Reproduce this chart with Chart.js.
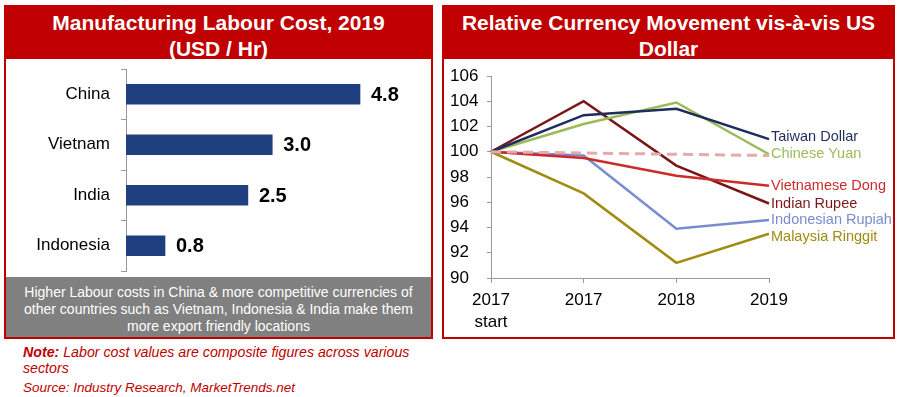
<!DOCTYPE html>
<html>
<head>
<meta charset="utf-8">
<script src="https://cdn.jsdelivr.net/npm/chart.js@4/dist/chart.umd.min.js"></script>
<style>
  body { margin: 0; width: 900px; height: 397px; background: #fff; position: relative; font-family: "Liberation Sans", Arial, sans-serif; overflow: hidden; }
  .panel { position: absolute; top: 5px; height: 330px; border: 2px solid #c00000; box-sizing: content-box; }
  .title { position: absolute; left: 0; right: 0; top: 0; height: 52px; background: #c00000; color: #fff; font-weight: bold; font-size: 21px; line-height: 26px; text-align: center; padding-top: 3px; box-sizing: border-box; }
  .summary { position: absolute; left: 0; right: 0; bottom: 0; height: 60px; background: #808080; color: #fff; font-size: 14px; line-height: 17px; text-align: center; padding-top: 7px; box-sizing: border-box; }
  canvas { position: absolute; }
  .note { position: absolute; left: 23px; top: 344px; color: #c00000; font-style: italic; font-size: 14.2px; line-height: 16px; width: 400px; }
  .source { position: absolute; left: 23px; top: 380px; color: #c00000; font-style: italic; font-size: 13.5px; }
</style>
</head>
<body>
<div class="panel" style="left:4px; width:425px;">
  <div class="title">Manufacturing Labour Cost, 2019<br>(USD / Hr)</div>
  <div class="summary">Higher Labour costs in China &amp; more competitive currencies of<br>other countries such as Vietnam, Indonesia &amp; India make them<br>more export friendly locations</div>
</div>
<div class="panel" style="left:442px; width:449px;">
  <div class="title">Relative Currency Movement vis-à-vis US<br>Dollar</div>
</div>
<canvas id="labourChart" width="424" height="218" style="left:6px; top:59px;"></canvas>
<canvas id="currencyChart" width="448" height="278" style="left:444px; top:57px;"></canvas>
<div class="note"><b>Note:</b> Labor cost values are composite figures across various sectors</div>
<div class="source">Source: Industry Research, MarketTrends.net</div>

<script>
// bar chart data
const countries = ['China', 'Vietnam', 'India', 'Indonesia']
const labourCost = [4.8, 3.0, 2.5, 0.8]

// currency index data (start of 2017 = 100)
const periods = [['2017', 'start'], '2017', '2018', '2019']
const taiwanDollar = [100, 102.9, 103.4, 101.0]
const chineseYuan = [100, 102.2, 103.9, 99.8]
const vietnameseDong = [100, 99.5, 98.1, 97.3]
const indianRupee = [100, 104.0, 98.9, 95.9]
const indonesianRupiah = [100, 99.7, 93.9, 94.6]
const malaysiaRinggit = [100, 96.7, 91.2, 93.5]
const baseline = [100, 99.9, 99.8, 99.7]
const yTicks = [90, 106, 2] // min, max, step

Chart.defaults.font.family = '"Liberation Sans", Arial, sans-serif'
Chart.defaults.color = '#000'

// value labels at the end of each bar
const barValues = {
  id: 'barValues',
  afterDatasetsDraw(chart) {
    const ctx = chart.ctx
    const meta = chart.getDatasetMeta(0)
    ctx.save()
    ctx.font = 'bold 20px "Liberation Sans", Arial'
    ctx.fillStyle = '#000'
    ctx.textAlign = 'left'
    ctx.textBaseline = 'middle'
    meta.data.forEach((bar, i) => {
      ctx.fillText(labourCost[i].toFixed(1), bar.x + 11, bar.y + 1)
    })
    ctx.restore()
  }
}

new Chart(document.getElementById('labourChart'), {
  type: 'bar',
  data: {
    labels: countries,
    datasets: [{
      data: labourCost,
      backgroundColor: '#1f3f7f',
      barThickness: 20
    }]
  },
  options: {
    responsive: false,
    animation: false,
    indexAxis: 'y',
    layout: { padding: { left: 0, right: 11.5, top: 10, bottom: 6 } },
    plugins: { legend: { display: false }, tooltip: { enabled: false } },
    scales: {
      x: { display: false, min: 0, max: 6 },
      y: {
        afterFit: (scale) => {
          scale.width = 120
          // keep the label padding from pushing the plot area in
          scale.paddingTop = 0
          scale.paddingBottom = 0
        },
        border: { color: '#999', width: 1 },
        grid: { offset: true, drawOnChartArea: false, drawTicks: true, tickLength: 5, color: '#999' },
        ticks: { font: { size: 17 }, padding: 11, color: '#000' }
      }
    }
  },
  plugins: [barValues]
})

// series names written next to the last point of each line
const endLabels = {
  id: 'endLabels',
  afterDatasetsDraw(chart) {
    const ctx = chart.ctx
    ctx.save()
    ctx.font = '14.5px "Liberation Sans", Arial'
    ctx.textAlign = 'left'
    ctx.textBaseline = 'middle'
    chart.data.datasets.forEach((ds, i) => {
      if (!ds.label) return
      const pts = chart.getDatasetMeta(i).data
      const last = pts[pts.length - 1]
      ctx.fillStyle = ds.borderColor
      ctx.fillText(ds.label, last.x + 2, last.y + (ds.labelShift || 0))
    })
    ctx.restore()
  }
}

const line = (label, data, color, extra) => Object.assign({
  label: label,
  data: data,
  borderColor: color,
  borderWidth: 2.5,
  pointRadius: 0,
  tension: 0,
  fill: false
}, extra || {})

new Chart(document.getElementById('currencyChart'), {
  type: 'line',
  data: {
    labels: periods,
    datasets: [
      line('', baseline, '#e6aaaa', { borderWidth: 3, borderDash: [10, 6], order: 0 }),
      line('Taiwan Dollar', taiwanDollar, '#1f2d5c', { labelShift: -2, order: 1 }),
      line('Chinese Yuan', chineseYuan, '#9bbb59', { order: 2 }),
      line('Vietnamese Dong', vietnameseDong, '#cc2b2b', { order: 3 }),
      line('Indian Rupee', indianRupee, '#7a1616', { order: 4 }),
      line('Indonesian Rupiah', indonesianRupiah, '#7b8ccc', { order: 5 }),
      line('Malaysia Ringgit', malaysiaRinggit, '#a08c12', { labelShift: 3, order: 6 })
    ]
  },
  options: {
    responsive: false,
    animation: false,
    layout: { padding: { left: 6, right: 123, top: 19, bottom: 0 } },
    plugins: { legend: { display: false }, tooltip: { enabled: false } },
    scales: {
      x: {
        afterFit: (scale) => { scale.height = 57 },
        offset: false,
        border: { color: '#999', width: 1 },
        grid: { drawOnChartArea: false, drawTicks: true, tickLength: 5, color: '#999' },
        ticks: { font: { size: 17, lineHeight: 1.3 }, padding: 6, color: '#000', maxRotation: 0 }
      },
      y: {
        min: yTicks[0],
        max: yTicks[1],
        afterFit: (scale) => { scale.width = 41 },
        border: { color: '#999', width: 1 },
        grid: { drawOnChartArea: false, drawTicks: true, tickLength: 4, color: '#999' },
        ticks: { stepSize: yTicks[2], font: { size: 17 }, color: '#000', crossAlign: 'far' }
      }
    }
  },
  plugins: [endLabels]
})
</script>
</body>
</html>
